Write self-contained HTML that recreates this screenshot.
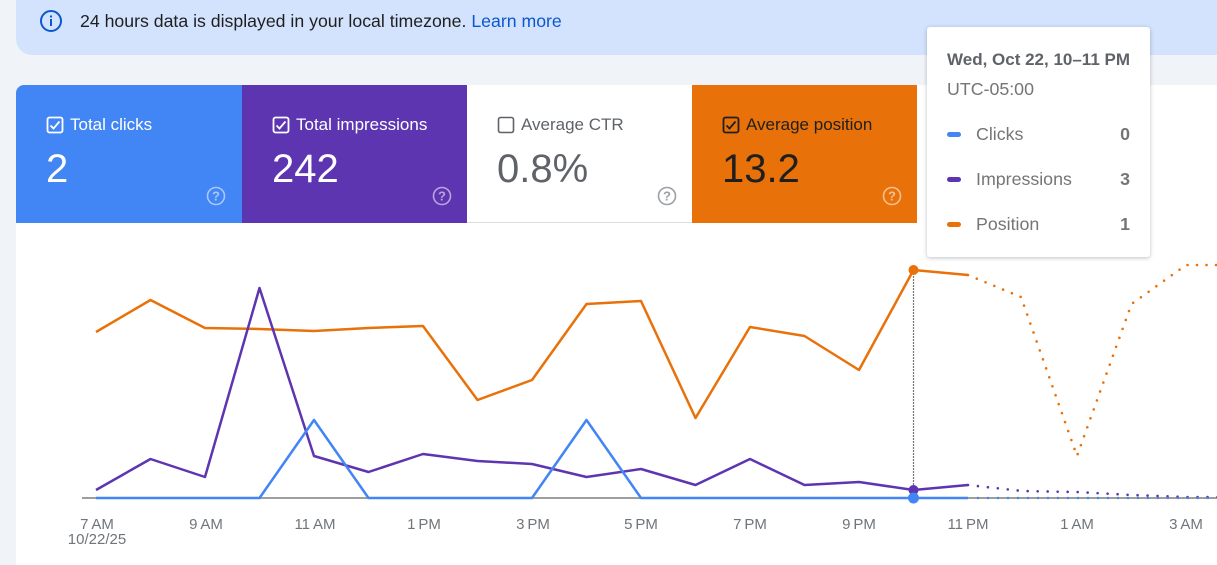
<!DOCTYPE html>
<html>
<head>
<meta charset="utf-8">
<style>
  html,body{margin:0;padding:0;}
  body{width:1217px;height:553px;overflow:hidden;background:#f0f4f9;position:relative;font-family:"Liberation Sans",Arial,sans-serif;}
  .banner{position:absolute;left:16px;top:-20px;width:1240px;height:75px;background:#d3e3fd;border-radius:16px;}
  .btext{position:absolute;left:80px;top:11px;font-size:17.7px;line-height:20px;color:#1f1f1f;white-space:nowrap;}
  .btext a{color:#0b57d0;text-decoration:none;}
  .panel{position:absolute;left:16px;top:85px;width:1220px;height:480px;background:#fff;border-top-left-radius:8px;}
  .card{position:absolute;top:85px;height:138px;width:225px;box-sizing:border-box;}
  .c1{left:16px;width:226px;background:#4285f4;border-top-left-radius:8px;color:#fff;}
  .c2{left:242px;background:#5e35b1;color:#fff;}
  .c3{left:467px;background:#fff;color:#5f6368;border-bottom:1px solid #dadce0;}
  .c4{left:692px;background:#e8710a;color:#1f1f1f;}
  .cb{position:absolute;left:30px;top:31px;width:18px;height:18px;}
  .lbl{position:absolute;left:54px;top:30px;font-size:17px;line-height:20px;white-space:nowrap;}
  .val{position:absolute;left:30px;top:64px;font-size:40px;line-height:40px;white-space:nowrap;}
  .help{position:absolute;left:190px;top:101px;width:20px;height:20px;}
  .tip{position:absolute;left:927px;top:27px;width:223px;height:230px;background:#fff;border-radius:3px;box-shadow:0 1px 4px rgba(0,0,0,0.25);}
  .tt{position:absolute;left:20px;white-space:nowrap;font-size:17.8px;line-height:20px;color:#757575;}
  .tv{position:absolute;right:20px;white-space:nowrap;font-size:17.8px;line-height:20px;color:#757575;font-weight:bold;}
  .sw{position:absolute;left:20px;width:14px;height:5px;border-radius:3px;}
  svg text{font-family:"Liberation Sans",Arial,sans-serif;}
</style>
</head>
<body>
<div class="banner"></div>
<svg style="position:absolute;left:39px;top:9px" width="24" height="24" viewBox="0 0 24 24">
  <circle cx="12" cy="12" r="10" fill="none" stroke="#0b57d0" stroke-width="2"/>
  <rect x="11" y="10" width="2" height="7" fill="#0b57d0"/>
  <rect x="11" y="6.5" width="2" height="2" fill="#0b57d0"/>
</svg>
<div class="btext">24 hours data is displayed in your local timezone. <a>Learn more</a></div>

<div class="panel"></div>

<div class="card c1">
  <svg class="cb" viewBox="0 0 18 18"><rect x="1.5" y="1.5" width="15" height="15" rx="2" fill="none" stroke="#fff" stroke-width="1.8"/><path d="M4.5 9.5 L7.5 12.5 L13.5 5.5" fill="none" stroke="#fff" stroke-width="1.8"/></svg>
  <div class="lbl">Total clicks</div>
  <div class="val">2</div>
  <svg class="help" viewBox="0 0 20 20"><circle cx="10" cy="10" r="8.5" fill="none" stroke="rgba(255,255,255,0.55)" stroke-width="1.6"/><text x="10" y="14.5" text-anchor="middle" font-size="13" font-weight="bold" fill="rgba(255,255,255,0.55)">?</text></svg>
</div>
<div class="card c2">
  <svg class="cb" viewBox="0 0 18 18"><rect x="1.5" y="1.5" width="15" height="15" rx="2" fill="none" stroke="#fff" stroke-width="1.8"/><path d="M4.5 9.5 L7.5 12.5 L13.5 5.5" fill="none" stroke="#fff" stroke-width="1.8"/></svg>
  <div class="lbl">Total impressions</div>
  <div class="val">242</div>
  <svg class="help" viewBox="0 0 20 20"><circle cx="10" cy="10" r="8.5" fill="none" stroke="rgba(255,255,255,0.55)" stroke-width="1.6"/><text x="10" y="14.5" text-anchor="middle" font-size="13" font-weight="bold" fill="rgba(255,255,255,0.55)">?</text></svg>
</div>
<div class="card c3">
  <svg class="cb" viewBox="0 0 18 18"><rect x="1.5" y="1.5" width="15" height="15" rx="2" fill="none" stroke="#5f6368" stroke-width="1.6"/></svg>
  <div class="lbl">Average CTR</div>
  <div class="val">0.8%</div>
  <svg class="help" viewBox="0 0 20 20"><circle cx="10" cy="10" r="8.5" fill="none" stroke="#9aa0a6" stroke-width="1.6"/><text x="10" y="14.5" text-anchor="middle" font-size="13" font-weight="bold" fill="#9aa0a6">?</text></svg>
</div>
<div class="card c4">
  <svg class="cb" viewBox="0 0 18 18"><rect x="1.5" y="1.5" width="15" height="15" rx="2" fill="none" stroke="#1f1f1f" stroke-width="1.8"/><path d="M4.5 9.5 L7.5 12.5 L13.5 5.5" fill="none" stroke="#1f1f1f" stroke-width="1.8"/></svg>
  <div class="lbl">Average position</div>
  <div class="val">13.2</div>
  <svg class="help" viewBox="0 0 20 20"><circle cx="10" cy="10" r="8.5" fill="none" stroke="rgba(255,255,255,0.55)" stroke-width="1.6"/><text x="10" y="14.5" text-anchor="middle" font-size="13" font-weight="bold" fill="rgba(255,255,255,0.55)">?</text></svg>
</div>

<svg style="position:absolute;left:0;top:0" width="1217" height="553" viewBox="0 0 1217 553">
  <line x1="82" y1="498" x2="1217" y2="498" stroke="#9e9e9e" stroke-width="2"/>
  <line x1="913.5" y1="270" x2="913.5" y2="498" stroke="#757575" stroke-width="1.2" stroke-dasharray="2 1"/>
  <!-- orange -->
  <polyline fill="none" stroke="#e8710a" stroke-width="2.5" stroke-linejoin="round" points="96,332 150.5,300 205,328 259.5,329 314,331 368.5,328 423,326 477.5,400 532,380 586.5,304 641,301 695.5,418 750,327 804.5,336 859,370 913.5,270 968,275"/>
  <polyline fill="none" stroke="#e8710a" stroke-width="2.6" stroke-linecap="round" stroke-dasharray="0 9.5" points="968,275 1021,297 1077,456 1131.5,304 1186,265 1240,265"/>
  <!-- purple -->
  <polyline fill="none" stroke="#5e35b1" stroke-width="2.5" stroke-linejoin="round" points="96,490 150.5,459 205,477 259.5,288 314,456 368.5,472 423,454 477.5,461 532,464 586.5,477 641,469 695.5,485 750,459 804.5,485 859,482 913.5,490 968,485"/>
  <polyline fill="none" stroke="#5e35b1" stroke-width="2.6" stroke-linecap="round" stroke-dasharray="0 10" points="968,485 1022.5,491 1077,492 1131.5,495 1186,497 1240,497"/>
  <!-- blue -->
  <polyline fill="none" stroke="#4285f4" stroke-width="2.5" stroke-linejoin="round" points="96,498 259.5,498 314,420 368.5,498 532,498 586.5,420 641,498 968,498"/>
  <polyline fill="none" stroke="#4285f4" stroke-width="2.4" stroke-linecap="round" stroke-dasharray="0 10" points="978,498 1217,498"/>
  <circle cx="913.5" cy="270" r="5" fill="#e8710a"/>
  <circle cx="913.5" cy="490" r="5" fill="#5e35b1"/>
  <circle cx="913.5" cy="498" r="5.5" fill="#4285f4"/>
  <g font-size="15" fill="#70757a" text-anchor="middle">
    <text x="97" y="529">7&#8201;AM</text>
    <text x="97" y="544">10/22/25</text>
    <text x="206" y="529">9&#8201;AM</text>
    <text x="315" y="529">11&#8201;AM</text>
    <text x="424" y="529">1&#8201;PM</text>
    <text x="533" y="529">3&#8201;PM</text>
    <text x="641" y="529">5&#8201;PM</text>
    <text x="750" y="529">7&#8201;PM</text>
    <text x="859" y="529">9&#8201;PM</text>
    <text x="968" y="529">11&#8201;PM</text>
    <text x="1077" y="529">1&#8201;AM</text>
    <text x="1186" y="529">3&#8201;AM</text>
  </g>
</svg>

<div class="tip">
  <div class="tt" style="top:23px;font-weight:bold;color:#5f6368;font-size:17px">Wed, Oct 22, 10–11 PM</div>
  <div class="tt" style="top:52px">UTC-05:00</div>
  <div class="sw" style="top:105px;background:#4285f4"></div>
  <div class="tt" style="top:97px;left:49px">Clicks</div>
  <div class="tv" style="top:97px">0</div>
  <div class="sw" style="top:150px;background:#5e35b1"></div>
  <div class="tt" style="top:142px;left:49px">Impressions</div>
  <div class="tv" style="top:142px">3</div>
  <div class="sw" style="top:195px;background:#e8710a"></div>
  <div class="tt" style="top:187px;left:49px">Position</div>
  <div class="tv" style="top:187px">1</div>
</div>
</body>
</html>
